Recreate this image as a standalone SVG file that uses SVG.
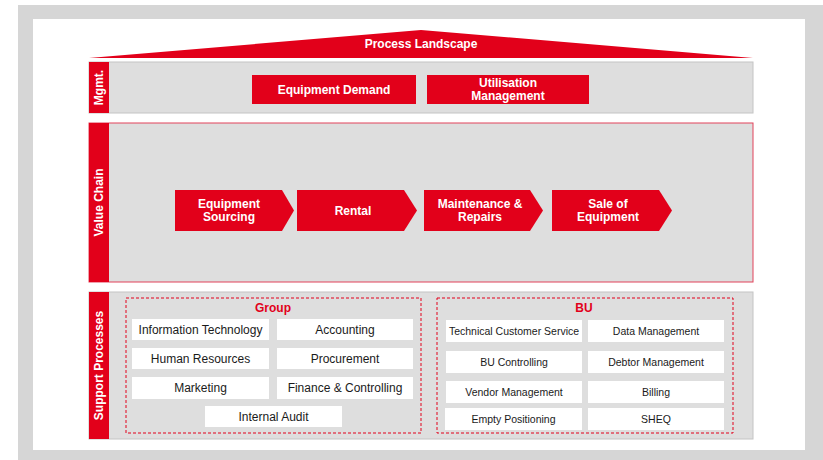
<svg xmlns="http://www.w3.org/2000/svg" width="823" height="460" viewBox="0 0 823 460">
<style>
.band{fill:#dedede;stroke:#c4c4c4;stroke-width:1}
.vc{fill:#dedede;stroke:#e2425a;stroke-width:1}
.strip{fill:#e2001a}
.red{fill:#e2001a}
.lbl{font-family:"Liberation Sans",Arial,sans-serif;font-weight:bold;font-size:12px;fill:#fff;text-anchor:middle}
.wbox{fill:#fff}
.wt{font-family:"Liberation Sans",Arial,sans-serif;font-size:12px;fill:#1a1a1a;text-anchor:middle}
.wt2{font-family:"Liberation Sans",Arial,sans-serif;font-size:10.5px;fill:#1a1a1a;text-anchor:middle}
.dash{fill:none;stroke:#e2001a;stroke-width:1;stroke-dasharray:3,2}
.rt{font-family:"Liberation Sans",Arial,sans-serif;font-weight:bold;font-size:12px;fill:#e2001a;text-anchor:middle}
</style>
<rect x="0" y="0" width="823" height="460" fill="#fff"/>
<rect x="18" y="5" width="805" height="455" fill="#d6d6d6"/>
<rect x="33" y="19" width="772" height="431" fill="#fff"/>

<g id="roof">
<polygon class="red" points="89,58 421,30 753,58"/>
<text class="lbl" x="421" y="48">Process Landscape</text>
</g>

<g id="mgmt">
<rect class="band" x="89" y="62" width="664" height="51"/>
<rect class="strip" x="89" y="62" width="20" height="51"/>
<text class="lbl" transform="translate(103,87.5) rotate(-90)">Mgmt.</text>
</g>
<g id="equipment-demand">
<rect class="red" x="252" y="75" width="164" height="29"/>
<text class="lbl" x="334" y="93.5">Equipment Demand</text>
</g>
<g id="utilisation-management">
<rect class="red" x="427" y="75" width="162" height="29"/>
<text class="lbl" x="508" y="87">Utilisation</text>
<text class="lbl" x="508" y="100">Management</text>
</g>

<g id="value-chain">
<rect class="vc" x="89" y="123" width="664" height="159"/>
<rect class="strip" x="89" y="123" width="20" height="159"/>
<text class="lbl" transform="translate(103,202.5) rotate(-90)">Value Chain</text>
</g>
<g id="equipment-sourcing">
<polygon class="red" points="175,190 282,190 294,210.5 282,231 175,231"/>
<text class="lbl" x="229" y="208">Equipment</text>
<text class="lbl" x="229" y="221">Sourcing</text>
</g>
<g id="rental">
<polygon class="red" points="297,190 404,190 417,210.5 404,231 297,231"/>
<text class="lbl" x="353" y="215">Rental</text>
</g>
<g id="maintenance-repairs">
<polygon class="red" points="424,190 530,190 543,210.5 530,231 424,231"/>
<text class="lbl" x="480" y="208">Maintenance &amp;</text>
<text class="lbl" x="480" y="221">Repairs</text>
</g>
<g id="sale-of-equipment">
<polygon class="red" points="552,190 659,190 672,210.5 659,231 552,231"/>
<text class="lbl" x="608" y="208">Sale of</text>
<text class="lbl" x="608" y="221">Equipment</text>
</g>

<g id="support-processes">
<rect class="band" x="89" y="292" width="664" height="147"/>
<rect class="strip" x="89" y="292" width="20" height="147"/>
<text class="lbl" transform="translate(103,365.5) rotate(-90)">Support Processes</text>
</g>

<g id="group">
<rect class="dash" x="126" y="298" width="295" height="135"/>
<text class="rt" x="273" y="312">Group</text>
</g>
<g id="information-technology"><rect class="wbox" x="132" y="319" width="137" height="21"/><text class="wt" x="200.5" y="334">Information Technology</text></g>
<g id="accounting"><rect class="wbox" x="277" y="319" width="136" height="21"/><text class="wt" x="345" y="334">Accounting</text></g>
<g id="human-resources"><rect class="wbox" x="132" y="348" width="137" height="21"/><text class="wt" x="200.5" y="363">Human Resources</text></g>
<g id="procurement"><rect class="wbox" x="277" y="348" width="136" height="21"/><text class="wt" x="345" y="363">Procurement</text></g>
<g id="marketing"><rect class="wbox" x="132" y="377" width="137" height="22"/><text class="wt" x="200.5" y="392">Marketing</text></g>
<g id="finance-controlling"><rect class="wbox" x="277" y="377" width="136" height="22"/><text class="wt" x="345" y="392">Finance &amp; Controlling</text></g>
<g id="internal-audit"><rect class="wbox" x="205" y="406" width="137" height="21"/><text class="wt" x="273.5" y="421">Internal Audit</text></g>

<g id="bu">
<rect class="dash" x="437" y="298" width="296" height="135"/>
<text class="rt" x="584" y="312">BU</text>
</g>
<g id="technical-customer-service"><rect class="wbox" x="446" y="320" width="136" height="22"/><text class="wt2" x="514" y="334.5">Technical Customer Service</text></g>
<g id="data-management"><rect class="wbox" x="588" y="320" width="136" height="22"/><text class="wt2" x="656" y="334.5">Data Management</text></g>
<g id="bu-controlling"><rect class="wbox" x="446" y="351" width="136" height="22"/><text class="wt2" x="514" y="365.5">BU Controlling</text></g>
<g id="debtor-management"><rect class="wbox" x="588" y="351" width="136" height="22"/><text class="wt2" x="656" y="365.5">Debtor Management</text></g>
<g id="vendor-management"><rect class="wbox" x="446" y="381" width="136" height="22"/><text class="wt2" x="514" y="395.5">Vendor Management</text></g>
<g id="billing"><rect class="wbox" x="588" y="381" width="136" height="22"/><text class="wt2" x="656" y="395.5">Billing</text></g>
<g id="empty-positioning"><rect class="wbox" x="445" y="408" width="137" height="22"/><text class="wt2" x="513.5" y="422.5">Empty Positioning</text></g>
<g id="sheq"><rect class="wbox" x="588" y="408" width="136" height="22"/><text class="wt2" x="656" y="422.5">SHEQ</text></g>

<g id="connectors"></g>
</svg>
